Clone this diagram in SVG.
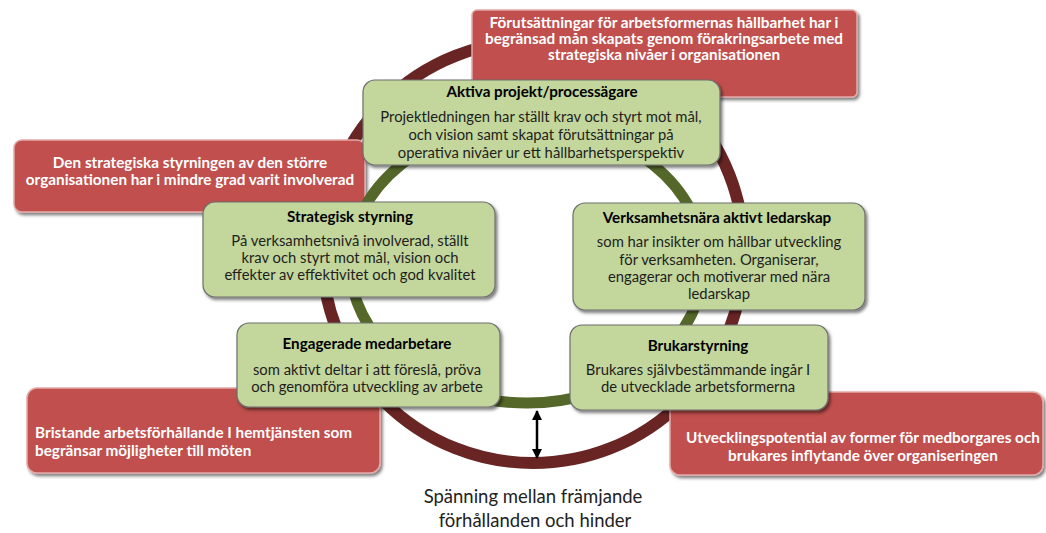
<svg xmlns="http://www.w3.org/2000/svg" width="1046" height="533" viewBox="0 0 1046 533">
<defs>
<filter id="sh" x="-10%" y="-10%" width="120%" height="130%">
<feDropShadow dx="2" dy="2.5" stdDeviation="1.8" flood-color="#000" flood-opacity="0.5"/>
</filter>
<marker id="ah" viewBox="0 0 10 10" refX="9" refY="5" markerWidth="10" markerHeight="11" markerUnits="userSpaceOnUse" orient="auto-start-reverse">
<path d="M0,0 L10,5 L0,10 z" fill="#000"/>
</marker>
<style>
.red{fill:#C0504D;stroke:#E2A9A7;stroke-width:1.5;filter:url(#sh)}
.grn{fill:#C3D69B;stroke:#6E6E6E;stroke-width:1.2;filter:url(#sh)}
.rt{font-family:Lato,"Liberation Sans",sans-serif;font-weight:bold;font-size:15.3px;fill:#fff;text-anchor:middle}
.gt{font-family:Lato,"Liberation Sans",sans-serif;font-weight:bold;font-size:15.2px;fill:#000;text-anchor:middle}
.gb{font-family:Lato,"Liberation Sans",sans-serif;font-size:14.8px;fill:#1e1e1e;text-anchor:middle}
.cap{font-family:Lato,"Liberation Sans",sans-serif;font-size:18.5px;fill:#222;text-anchor:middle}
</style>
</defs>
<rect width="1046" height="533" fill="#fff"/>
<g id="ring-outer">
<circle cx="533" cy="252" r="211" fill="none" stroke="#692424" stroke-width="12"/>
</g>
<g id="red-top">
<rect class="red" x="472" y="10" width="385" height="87" rx="5"/>
<text class="rt" x="664" y="28">Förutsättningar för arbetsformernas hållbarhet har i</text>
<text class="rt" x="664" y="44">begränsad mån skapats genom förakringsarbete med</text>
<text class="rt" x="664" y="60">strategiska nivåer i organisationen</text>
</g>
<g id="red-left">
<rect class="red" x="14" y="140" width="351" height="72" rx="8"/>
<text class="rt" x="190" y="168">Den strategiska styrningen av den större</text>
<text class="rt" x="190" y="185">organisationen har i mindre grad varit involverad</text>
</g>
<g id="red-bottom-left">
<rect class="red" x="27" y="388" width="353" height="85" rx="10"/>
<text class="rt" x="35" y="438" style="text-anchor:start">Bristande arbetsförhållande I hemtjänsten som</text>
<text class="rt" x="35" y="456" style="text-anchor:start">begränsar möjligheter till möten</text>
</g>
<g id="red-bottom-right">
<rect class="red" x="670" y="392" width="373" height="83" rx="10"/>
<text class="rt" x="863" y="443">Utvecklingspotential av former för medborgares och</text>
<text class="rt" x="863" y="461">brukares inflytande över organiseringen</text>
</g>
<g id="ring-inner">
<ellipse cx="527" cy="263" rx="177" ry="140" fill="none" stroke="#55682A" stroke-width="11"/>
</g>
<g id="aktiva">
<rect class="grn" x="363" y="80" width="357" height="85" rx="12"/>
<text class="gt" x="542" y="97">Aktiva projekt/processägare</text>
<text class="gb" x="541" y="122">Projektledningen har ställt krav och styrt mot mål,</text>
<text class="gb" x="541" y="140">och vision samt skapat förutsättningar på</text>
<text class="gb" x="541" y="158">operativa nivåer ur ett hållbarhetsperspektiv</text>
</g>
<g id="strategisk">
<rect class="grn" x="203" y="202" width="292" height="95" rx="12"/>
<text class="gt" x="350" y="222">Strategisk styrning</text>
<text class="gb" x="350" y="246">På verksamhetsnivå involverad, ställt</text>
<text class="gb" x="350" y="263">krav och styrt mot mål, vision och</text>
<text class="gb" x="350" y="280">effekter av effektivitet och god kvalitet</text>
</g>
<g id="verksamhetsnara">
<rect class="grn" x="573" y="203" width="292" height="107" rx="12"/>
<text class="gt" x="717" y="223">Verksamhetsnära aktivt ledarskap</text>
<text class="gb" x="719" y="247">som har insikter om hållbar utveckling</text>
<text class="gb" x="719" y="265">för verksamheten. Organiserar,</text>
<text class="gb" x="719" y="282">engagerar och motiverar med nära</text>
<text class="gb" x="719" y="299">ledarskap</text>
</g>
<g id="engagerade">
<rect class="grn" x="237" y="323" width="263" height="84" rx="12"/>
<text class="gt" x="367" y="349">Engagerade medarbetare</text>
<text class="gb" x="367" y="375">som aktivt deltar i att föreslå, pröva</text>
<text class="gb" x="367" y="392">och genomföra utveckling av arbete</text>
</g>
<g id="brukarstyrning">
<rect class="grn" x="570" y="325" width="258" height="85" rx="12"/>
<text class="gt" x="698" y="351">Brukarstyrning</text>
<text class="gb" x="698" y="375">Brukares självbestämmande ingår I</text>
<text class="gb" x="698" y="392">de utvecklade arbetsformerna</text>
</g>
<g id="connectors">
<line x1="537" y1="411" x2="537" y2="458" stroke="#000" stroke-width="2.5" marker-start="url(#ah)" marker-end="url(#ah)"/>
</g>
<g id="caption">
<text class="cap" x="533" y="503">Spänning mellan främjande</text>
<text class="cap" x="535" y="527">förhållanden och hinder</text>
</g>
</svg>
